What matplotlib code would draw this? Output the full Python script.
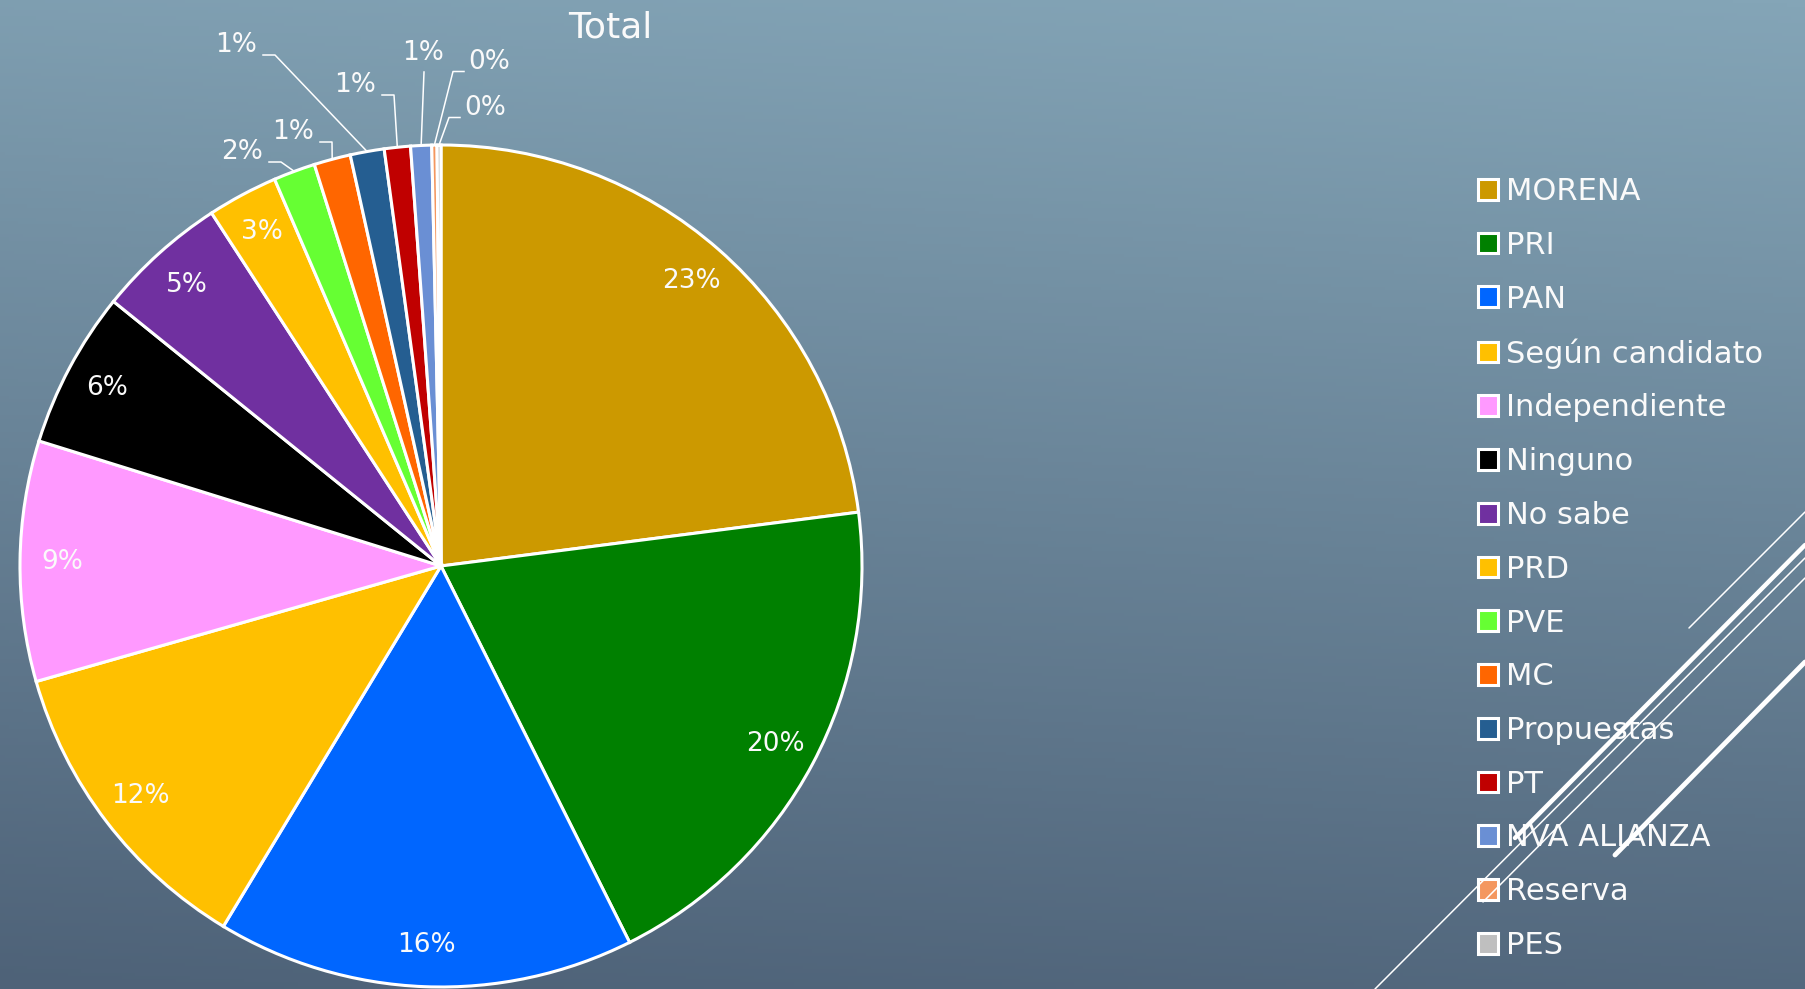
import numpy as np
import matplotlib
matplotlib.use('Agg')
import matplotlib.pyplot as plt
from matplotlib.colors import LinearSegmentedColormap

# Datos del gráfico
partidos = ['MORENA', 'PRI', 'PAN', 'Según candidato', 'Independiente', 'Ninguno',
            'No sabe', 'PRD', 'PVE', 'MC', 'Propuestas', 'PT', 'NVA ALIANZA',
            'Reserva', 'PES']
porcentajes = [22.9, 19.6, 16.0, 11.9, 9.2, 6.0, 5.0, 2.7, 1.6, 1.4, 1.3, 1.0, 0.8, 0.2, 0.15]
colores = ['#CC9900', '#008000', '#0066FF', '#FFC000', '#FF99FF', '#000000',
           '#7030A0', '#FFC000', '#66FF33', '#FF6600', '#255E91', '#C00000',
           '#6A8FD4', '#F4975F', '#BFBFBF']
titulo = 'Total'

fuente = ['DejaVu Sans']
blanco = '#FAFAFA'
peso = 'normal'

W, H = 1805, 989
fig = plt.figure(figsize=(W / 100, H / 100), dpi=100)
ax = fig.add_axes([0, 0, 1, 1])

# fondo con degradado
yy, xx = np.mgrid[0:1:300j, 0:1:400j]
t = 0.9 * yy + 0.1 * (1 - xx)
fondo = LinearSegmentedColormap.from_list('fondo', ['#84A5B7', '#4E6278'])
ax.imshow(t, cmap=fondo, extent=(0, W, 0, H), origin='upper', aspect='auto', zorder=0)

# pastel
cx, cy, R = 441, H - 566, 421
wedges, _ = ax.pie(porcentajes, colors=colores, startangle=90, counterclock=False,
                   center=(cx, cy), radius=R,
                   wedgeprops=dict(edgecolor='white', linewidth=2.2))

total = sum(porcentajes)

# etiquetas externas: (x, y desde arriba, lado de la linea)
externas = {8: (242, 152, 'r'), 9: (293, 132, 'r'), 10: (236, 45, 'r'),
            11: (355, 85, 'r'), 12: (423, 53, 'b'), 13: (489, 62, 'l'),
            14: (485, 108, 'l')}

for i, (w, v) in enumerate(zip(wedges, porcentajes)):
    txt = f"{v / total * 100:.0f}%"
    ang = np.deg2rad((w.theta1 + w.theta2) / 2)
    if i not in externas:
        ax.text(cx + 0.9 * R * np.cos(ang), cy + 0.9 * R * np.sin(ang), txt,
                ha='center', va='center', color=blanco, fontsize=19,
                family=fuente, weight=peso)
        continue
    tx, ty, lado = externas[i]
    ax.text(tx, H - ty, txt, ha='center', va='center', color=blanco,
            fontsize=19, family=fuente, weight=peso)
    borde = (cx + R * np.cos(ang), cy + R * np.sin(ang))
    if lado == 'r':
        pts = [(tx + 27, ty + 10), (tx + 39, ty + 10)]
    elif lado == 'l':
        pts = [(tx - 25, ty + 9.5), (tx - 36, ty + 9.5)]
    else:
        pts = [(tx + 1, ty + 19)]
    xs = [p[0] for p in pts] + [borde[0]]
    ys = [H - p[1] for p in pts] + [borde[1]]
    ax.plot(xs, ys, color='white', lw=1.1, zorder=4)

ax.text(610, H - 27, titulo, ha='center', va='center', color=blanco,
        fontsize=26, family=fuente, weight=peso)

leg = ax.legend(wedges, partidos, loc='upper left',
                bbox_to_anchor=(1478 / W, 1 - 177 / H), frameon=False,
                borderpad=0, borderaxespad=0, handlelength=0.66, handleheight=0.66,
                handletextpad=0.26, labelspacing=0.81,
                prop=dict(family=fuente, size=22, weight=peso))
for tx_ in leg.get_texts():
    tx_.set_color(blanco)

# lineas decorativas
decor = [((1689, 628), (1805, 512), 1.1),
         ((1515, 838), (1805, 545), 3.2),
         ((1375, 989), (1805, 558), 1.1),
         ((1483, 902), (1805, 578), 1.1),
         ((1615, 855), (1805, 662), 3.5)]
for (x0, y0), (x1, y1), lw in decor:
    ax.plot([x0, x1], [H - y0, H - y1], color='white', lw=lw,
            solid_capstyle='round', zorder=6)

ax.set_xlim(0, W)
ax.set_ylim(0, H)
ax.axis('off')

fig.savefig('out.png', dpi=100)
